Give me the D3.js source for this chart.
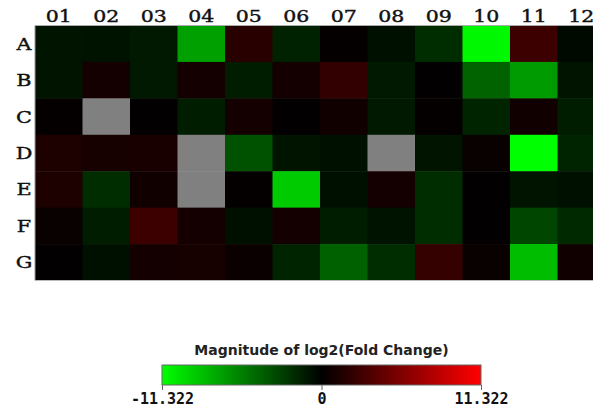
<!DOCTYPE html>
<html><head><meta charset="utf-8">
<script src="https://cdn.jsdelivr.net/npm/d3@7"></script>
<style>body{margin:0;background:#fff;overflow:hidden}svg{display:block}</style>
</head><body>
<svg id="c" width="593" height="410"></svg>
<script>
const columns = ["01","02","03","04","05","06","07","08","09","10","11","12"];
const rows = ["A","B","C","D","E","F","G"];
// log2 fold change values per row (null = no data)
const rowA = [-0.9,-0.8,-1.1,-7.1, 1.8,-1.5, 0.2,-0.7,-2.0,-11.0, 2.7,-0.4];
const rowB = [-0.9, 0.9,-1.1, 0.9,-1.3, 0.9, 2.2,-1.1, 0.1,-4.4,-6.9,-0.9];
const rowC = [ 0.2, null, 0.1,-1.3, 0.9, 0.1, 0.7,-1.1, 0.2,-1.6, 0.7,-1.3];
const rowD = [ 1.3, 1.0, 1.1, null,-3.6,-0.9,-0.7, null,-0.9, 0.4,-11.3,-1.6];
const rowE = [ 1.3,-2.0, 0.7, null, 0.2,-9.0,-0.7, 0.9,-2.0, 0.1,-0.9,-0.7];
const rowF = [ 0.4,-1.3, 2.7, 0.9,-0.7, 0.9,-1.3,-0.8,-2.0, 0.1,-3.1,-1.8];
const rowG = [ 0.1,-0.7, 0.9, 1.0, 0.5,-1.6,-4.3,-2.0, 2.3, 0.4,-8.4, 0.7];
const values = [rowA,rowB,rowC,rowD,rowE,rowF,rowG];
const legendMin = -11.322, legendMax = 11.322;
const legendTicks = [-11.322, 0, 11.322];
const legendTickLabels = ["-11.322", "0", "11.322"];
const legendTitle = "Magnitude of log2(Fold Change)";

const svg = d3.select("#c");
const x = d3.scaleBand().domain(columns).range([35, 605]).padding(0);
const y = d3.scaleBand().domain(rows).range([25.5, 280.5]).padding(0);
const color = d3.scaleLinear().domain([legendMin, 0, legendMax])
  .range(["#00ff00", "#000000", "#ff0000"]).clamp(true);

const cells = [];
values.forEach((r,i)=>r.forEach((v,j)=>cells.push({row:rows[i], col:columns[j], v})));

svg.append("g").selectAll("rect").data(cells).join("rect")
  .attr("x", d=>x(d.col)).attr("y", d=>y(d.row))
  .attr("width", x.bandwidth()+0.5).attr("height", y.bandwidth()+0.5)
  .attr("fill", d=>d.v===null ? "#808080" : color(d.v));

// outline
svg.append("line").attr("x1",x.range()[0]).attr("x2",593).attr("y1",y.range()[0]).attr("y2",y.range()[0]).attr("stroke","#aaa");
svg.append("line").attr("x1",x.range()[0]).attr("x2",593).attr("y1",y.range()[1]).attr("y2",y.range()[1]).attr("stroke","#bbb");
svg.append("line").attr("x1",x.range()[0]).attr("x2",x.range()[0]).attr("y1",y.range()[0]).attr("y2",y.range()[1]).attr("stroke","#999");

// column labels
svg.append("g").selectAll("text").data(columns).join("text")
  .attr("transform", d=>`translate(${x(d)+x.bandwidth()/2},22) scale(1.28,1)`)
  .attr("text-anchor","middle")
  .attr("font-family","DejaVu Serif").attr("font-size",16).attr("fill","#111")
  .attr("stroke","#111").attr("stroke-width",0.4)
  .text(d=>d);

// row labels
svg.append("g").selectAll("text").data(rows).join("text")
  .attr("transform", d=>`translate(24,${y(d)+y.bandwidth()/2+6}) scale(1.3,1)`)
  .attr("text-anchor","middle")
  .attr("font-family","DejaVu Serif").attr("font-size",16).attr("fill","#111")
  .attr("stroke","#111").attr("stroke-width",0.4)
  .text(d=>d);

// legend
const lx = d3.scaleLinear().domain([legendMin, legendMax]).range([162, 481]);
const defs = svg.append("defs");
const grad = defs.append("linearGradient").attr("id","lg");
[legendMin,0,legendMax].forEach(v=>grad.append("stop")
  .attr("offset", ((v-legendMin)/(legendMax-legendMin)*100)+"%")
  .attr("stop-color", color(v)));
svg.append("rect").attr("x",162).attr("y",365).attr("width",lx(legendMax)-lx(legendMin)).attr("height",20)
  .attr("fill","url(#lg)").attr("stroke","#666").attr("stroke-width",1);
svg.append("text").attr("x",(lx(legendMin)+lx(legendMax))/2).attr("y",355)
  .attr("text-anchor","middle").attr("font-family","DejaVu Sans").attr("font-weight","bold")
  .attr("font-size",14).attr("fill","#222").text(legendTitle);
const ax = svg.append("g").attr("transform","translate(0,385)")
  .call(d3.axisBottom(lx).tickValues(legendTicks).tickSize(5)
    .tickFormat((d,i)=>legendTickLabels[i]));
ax.select(".domain").remove();
ax.selectAll("line").attr("stroke","#666");
ax.selectAll("text").attr("font-family","DejaVu Sans Mono").attr("font-weight","bold")
  .attr("font-size",15).attr("fill","#111").attr("dy","0.72em");
</script>
</body></html>
